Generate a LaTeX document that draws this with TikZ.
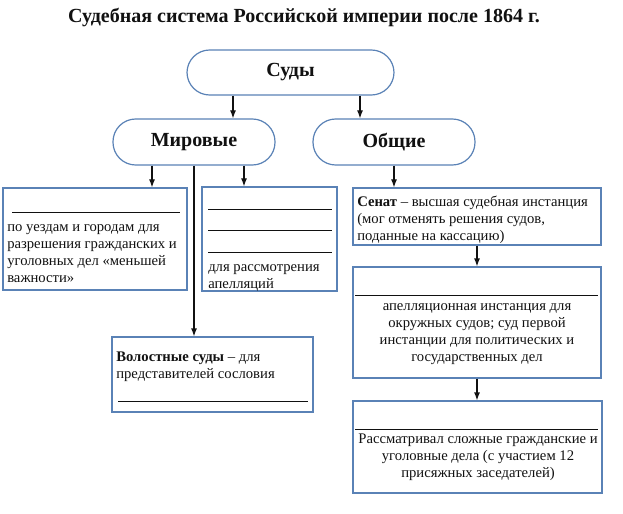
\documentclass[tikz,border=0pt]{standalone}
\usepackage{fontspec}
\setmainfont{Liberation Serif}
\usepackage{xcolor}
\usepackage{tikz}
\usetikzlibrary{arrows.meta,positioning,calc,fit}
\definecolor{frame}{HTML}{5a82b6}
\definecolor{ink}{HTML}{111111}

\begin{document}
\begin{tikzpicture}[x=0.75pt,y=-0.75pt,
    pill/.style={rectangle, draw=frame, line width=0.9pt, rounded corners=17pt,
                 inner sep=0pt, minimum width=121.5pt, minimum height=34.5pt,
                 font=\fontsize{15}{18}\selectfont\bfseries, text=ink},
    card/.style={rectangle, draw=frame, line width=0.9pt, inner sep=0pt},
    txt/.style={inner sep=0pt, anchor=north west, align=left, text=ink,
                font=\fontsize{11}{12.75}\selectfont},
    ctxt/.style={txt, anchor=north, align=center},
    arrow/.style={-{Latex[length=6pt,width=4.5pt]}, line width=0.9pt, color=ink},
    blank/.style={line width=0.7pt, color=ink},
]
\useasboundingbox[fill=white] (0,0) rectangle (623,513);

% title
\node[font=\fontsize{15}{18}\selectfont\bfseries, text=ink] (title) at (304,18)
    {Судебная система Российской империи после 1864 г.};

% top levels
\node[pill, minimum width=155.25pt, minimum height=33.75pt] (sudy) at (290.5,72.5) {Суды};
\node[pill] (mir) at (194,142) {Мировые};
\node[pill] (obsh) at (394,142) {Общие};

% boxes
\node[card, fit={(3,188)(187,290)}] (uezd) {};
\node[card, fit={(202,187)(337,291)}] (apel) {};
\node[card, fit={(112,337)(313,412)}] (volost) {};
\node[card, fit={(353,188)(601,245)}] (senat) {};
\node[card, fit={(353,267)(601,378)}] (palata) {};
\node[card, fit={(353,401)(602,493)}] (okrug) {};

% texts
\node[txt] at (7,219) {\strut по уездам и городам для\\разрешения гражданских и\\уголовных дел «меньшей\\важности»};
\node[txt] at (208,259) {\strut для рассмотрения\\апелляций};
\node[txt] at (116,349) {\strut\textbf{Волостные суды} – для\\представителей сословия};
\node[txt] at (357,194) {\strut\textbf{Сенат} – высшая судебная инстанция\\(мог отменять решения судов,\\поданные на кассацию)};
\node[ctxt] at (477,298) {\strut апелляционная инстанция для\\окружных судов; суд первой\\инстанции для политических и\\государственных дел};
\node[ctxt] at (478,431) {\strut Рассматривал сложные гражданские и\\уголовные дела (с участием 12\\присяжных заседателей)};

% blanks to fill in
\draw[blank] (12,212) -- (180,212);
\draw[blank] (208,209) -- (332,209);
\draw[blank] (208,230) -- (332,230);
\draw[blank] (208,252) -- (332,252);
\draw[blank] (118,401) -- (308,401);
\draw[blank] (355,295) -- (598,295);
\draw[blank] (355,429) -- (598,429);

% arrows
\coordinate (xa) at (233,0);
\coordinate (xb) at (360,0);
\coordinate (xc) at (152,0);
\coordinate (xd) at (194,0);
\coordinate (xe) at (244,0);
\draw[arrow] (sudy.south -| xa) -- (mir.north -| xa);
\draw[arrow] (sudy.south -| xb) -- (obsh.north -| xb);
\draw[arrow] (mir.south -| xc) -- (uezd.north -| xc);
\draw[arrow] (mir.south -| xe) -- (apel.north -| xe);
\draw[arrow] (mir.south -| xd) -- (volost.north -| xd);
\draw[arrow] (obsh.south) -- (obsh.south |- senat.north);
\draw[arrow] (senat.south) -- (palata.north);
\draw[arrow] (palata.south) -- (palata.south |- okrug.north);

\end{tikzpicture}
\end{document}
